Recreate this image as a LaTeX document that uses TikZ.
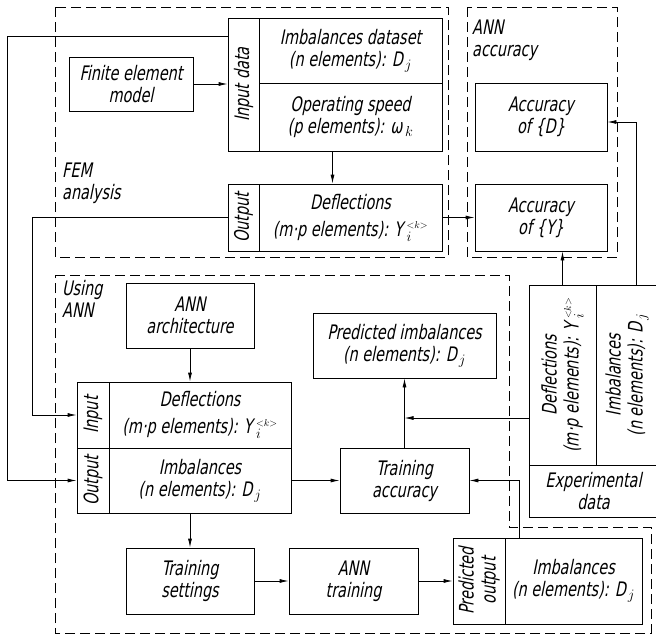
\documentclass[tikz,border=0pt]{standalone}
\usepackage{fontspec}
\setmainfont{DejaVu Sans}[FakeSlant=0.2,FakeStretch=0.72]
\usetikzlibrary{arrows.meta,positioning,calc}
\newcommand\Dj{D\kern2pt$_j$}
\newcommand\Yik{Y\kern3.5pt$_i^{\scriptscriptstyle <k>}$}
\tikzset{
  >={Latex[length=9pt,width=4pt]},
  box/.style={draw,line width=0.8pt,inner sep=1pt,align=center,font=\fontsize{20}{22}\selectfont},
  vlab/.style={rotate=90,inner sep=0pt,align=center,font=\fontsize{20}{22}\selectfont},
  lab/.style={inner sep=0pt,align=left,font=\fontsize{20}{22}\selectfont},
  arr/.style={->,line width=0.8pt},
  zone/.style={dash pattern=on 10pt off 5pt,line width=0.8pt},
}
\begin{document}
\begin{tikzpicture}[x=1pt,y=-1pt]
\useasboundingbox (0,0) rectangle (656,635);
% dashed zones
\draw[zone] (55,7) rectangle (448,257);
\draw[zone] (467,7) rectangle (617,257);
\draw[zone] (55,275) -- (509,275) -- (509,527) -- (651,527) -- (651,633) -- (55,633) -- cycle;
\node[lab,anchor=north west] (femlab) at (62,163) {FEM\\analysis};
\node[lab,anchor=north west] (acclab) at (472,20) {ANN\\accuracy};
\node[lab,anchor=north west] (annlab) at (62,280) {Using\\ANN};
% FEM analysis
\node[box,minimum width=124,minimum height=54] (fem) at (131,84) {Finite element\\model};
\node[box,minimum width=31,minimum height=133,label={[vlab]center:Input data}] (indata) at (243.5,84.5) {};
\node[box,minimum width=183,minimum height=65] (imbset) at (350.5,50.5) {Imbalances dataset\\(n elements): \Dj};
\node[box,minimum width=183,minimum height=68] (speed) at (350.5,117) {Operating speed\\(p elements): ω\kern2.5pt$_k$};
\node[box,minimum width=31,minimum height=67,label={[vlab]center:Output}] (femout) at (243.5,217.5) {};
\node[box,minimum width=183,minimum height=67] (defl) at (350.5,217.5) {Deflections\\[5pt](m·p elements): \Yik};
% ANN accuracy
\node[box,minimum width=132,minimum height=68] (accD) at (541,117) {Accuracy\\of \{D\}};
\node[box,minimum width=132,minimum height=67] (accY) at (541,217.5) {Accuracy\\of \{Y\}};
% using ANN
\node[box,minimum width=128,minimum height=65] (arch) at (190,315.5) {ANN\\architecture};
\node[box,minimum width=32,minimum height=66,label={[vlab]center:Input}] (annincol) at (93,415) {};
\node[box,minimum width=182,minimum height=66] (annin) at (200,415) {Deflections\\[5pt](m·p elements): \Yik};
\node[box,minimum width=32,minimum height=65,label={[vlab]center:Output}] (annoutcol) at (93,480.5) {};
\node[box,minimum width=182,minimum height=65] (annout) at (200,480.5) {Imbalances\\(n elements): \Dj};
\node[box,minimum width=128,minimum height=66] (tset) at (190,581) {Training\\settings};
\node[box,minimum width=129,minimum height=66] (train) at (353.5,581) {ANN\\training};
\node[box,minimum width=52,minimum height=86,label={[vlab]center:Predicted\\output}] (predcol) at (479,581) {};
\node[box,minimum width=137,minimum height=86] (predout) at (573.5,581) {Imbalances\\(n elements): \Dj};
\node[box,minimum width=129,minimum height=65] (tacc) at (404.5,480.5) {Training\\accuracy};
\node[box,minimum width=183,minimum height=65] (predimb) at (404.5,345.5) {Predicted imbalances\\(n elements): \Dj};
% experimental data
\node[box,minimum width=67,minimum height=180,label={[vlab]center:{Deflections\\(m·p elements): \Yik}}] (expY) at (562.5,375) {};
\node[box,minimum width=62,minimum height=180,label={[vlab]center:{Imbalances\\(n elements): \Dj}}] (expD) at (627,375) {};
\node[box,minimum width=129,minimum height=52] (expdat) at (593.5,491) {Experimental\\data};
\coordinate (expfork) at ([yshift=-43pt]expY.west);
% connectors
\draw[arr] (fem.east) -- (fem.east -| indata.west);
\draw[arr] ([xshift=-18pt]speed.south) -- ([xshift=-18pt]defl.north);
\draw[arr] (defl.east) -- (accY.west);
\draw[arr] ([yshift=48pt]indata.west) -- ++(-220,0) |- (annoutcol.west);
\draw[arr] (femout.west) -- ++(-195,0) |- (annincol.west);
\draw[arr] (arch.south) -- (arch.south |- annin.north);
\draw[arr] (tset.north |- annout.south) -- (tset.north);
\draw[arr] (tset) -- (train);
\draw[arr] (train) -- (predcol);
\draw[arr] (annout) -- (tacc);
\draw[arr] ([xshift=15pt]predout.north west) |- (tacc.east);
\draw[arr] (tacc) -- (predimb);
\draw[arr] (expfork) -- (expfork -| tacc.north);
\draw[arr] (expY.north) -- (expY.north |- accY.south);
\draw[arr] ([xshift=9pt]expD.north) |- ([yshift=-5pt]accD.east);
\end{tikzpicture}
\end{document}
